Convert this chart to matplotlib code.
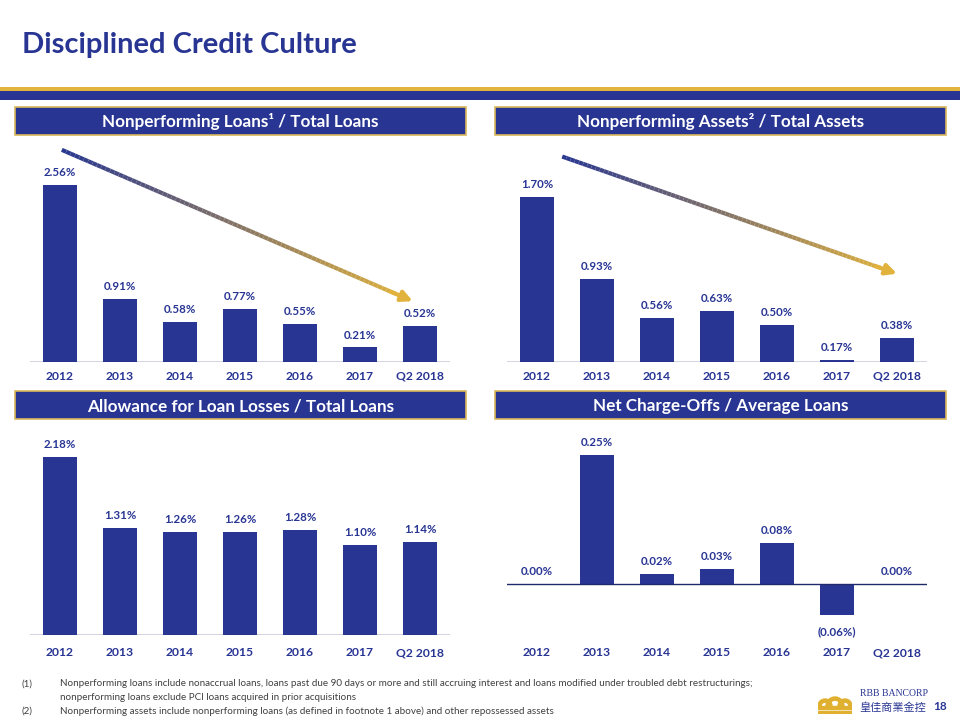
import numpy as np
import matplotlib.pyplot as plt
from matplotlib.collections import LineCollection
from matplotlib.patches import Rectangle, Wedge
from matplotlib.colors import to_rgb

# chart data
years = ['2012', '2013', '2014', '2015', '2016', '2017', 'Q2 2018']
npl_ratio = [2.56, 0.91, 0.58, 0.77, 0.55, 0.21, 0.52]
npa_ratio = [1.70, 0.93, 0.56, 0.63, 0.50, 0.17, 0.38]
allowance_ratio = [2.18, 1.31, 1.26, 1.26, 1.28, 1.10, 1.14]
nco_ratio = [0.00, 0.25, 0.02, 0.03, 0.08, -0.06, 0.00]

titles = ['Nonperforming Loans\u00b9 / Total Loans',
          'Nonperforming Assets\u00b2 / Total Assets',
          'Allowance for Loan Losses / Total Loans',
          'Net Charge-Offs / Average Loans']

footnotes = [
    ('(1)', 'Nonperforming loans include nonaccrual loans, loans past due 90 days or more and still accruing interest and loans modified under troubled debt restructurings;'),
    ('', 'nonperforming loans exclude PCI loans acquired in prior acquisitions'),
    ('(2)', 'Nonperforming assets include nonperforming loans (as defined in footnote 1 above) and other repossessed assets'),
]

BLUE = '#283593'
GOLD = '#E2B33C'
FONT = 'Lato'

W, H = 960, 720
fig = plt.figure(figsize=(9.6, 7.2), dpi=100)
fig.patch.set_facecolor('white')


def px_box(l, t, r, b):
    # pixel box -> figure fraction rect
    return [l / W, 1 - b / H, (r - l) / W, (b - t) / H]


def fx(x):
    return x / W


def fy(y):
    return 1 - y / H


# title + stripes
fig.text(fx(22), fy(45), 'Disciplined Credit Culture', fontsize=21, fontweight='bold',
         color=BLUE, family=FONT, va='center', ha='left')
fig.patches.append(Rectangle((0, fy(91)), 1, 4 / H, transform=fig.transFigure,
                             facecolor=GOLD, edgecolor='none'))
fig.patches.append(Rectangle((0, fy(100)), 1, 9 / H, transform=fig.transFigure,
                             facecolor=BLUE, edgecolor='none'))

# header boxes
headers = [(15, 107, 466, 135), (495, 107, 946, 135),
           (15, 391, 466, 419), (495, 391, 946, 419)]
for (l, t, r, b), ttl in zip(headers, titles):
    fig.patches.append(Rectangle((fx(l), fy(b)), (r - l) / W, (b - t) / H,
                                 transform=fig.transFigure, facecolor=BLUE,
                                 edgecolor='#D9B75A', linewidth=1.2))
    fig.text(fx((l + r) / 2), fy((t + b) / 2 + 1), ttl, color='white', fontsize=12.3,
             fontweight='bold', family=FONT, ha='center', va='center')


def fmt(v):
    return f'({abs(v):.2f}%)' if v < 0 else f'{v:.2f}%'


def bar_panel(rect, vals, ylim):
    ax = fig.add_axes(rect)
    x = np.arange(len(years))
    ax.bar(x, vals, width=0.56, color=BLUE)
    ax.axhline(max(0, ylim[0]), color='#1F2A6B', linewidth=1)
    ax.set_xlim(-0.5, len(years) - 0.5)
    ax.set_ylim(*ylim)
    for s in ax.spines.values():
        s.set_visible(False)
    ax.set_yticks([])
    ax.set_xticks([])
    for xi, v in zip(x, vals):
        off = -8 if v < 0 else 5
        ax.annotate(fmt(v), (xi, v), xytext=(0, off), textcoords='offset points',
                    ha='center', va='top' if v < 0 else 'bottom', fontsize=8.3,
                    fontweight='bold', color=BLUE, family=FONT, annotation_clip=False)
    return ax


def year_labels(x0, y):
    for i, yr in enumerate(years):
        fig.text(fx(x0 + 60 * i), fy(y), yr, ha='center', va='center', fontsize=8.7,
                 fontweight='bold', color=BLUE, family=FONT)


def grad_arrow(ax, start, end, c0='#2A3890', c1=GOLD, n=80):
    xs = np.linspace(start[0], end[0], n + 1)
    ys = np.linspace(start[1], end[1], n + 1)
    segs = np.stack([np.column_stack([xs[:-1], ys[:-1]]),
                     np.column_stack([xs[1:], ys[1:]])], axis=1)
    a, b = np.array(to_rgb(c0)), np.array(to_rgb(c1))
    cols = [a + (b - a) * t for t in np.linspace(0, 1, n)]
    ax.add_collection(LineCollection(segs[:-4], colors=cols[:-4], linewidth=3,
                                     capstyle='butt'))
    ax.annotate('', xy=end, xytext=(xs[-6], ys[-6]),
                arrowprops=dict(arrowstyle='-|>', color=c1, lw=3,
                                mutation_scale=16, shrinkA=0, shrinkB=0))


# top-left: baseline at y=362, 69.1 px per 1%
ax1 = bar_panel(px_box(30, 140, 450, 362), npl_ratio, (0, 222 / 69.1))
grad_arrow(ax1, (0.03, 3.07), (5.88, 0.88))
year_labels(60, 376)

# top-right: value axis starts near 0.15, 106.5 px per 1%
ax2 = bar_panel(px_box(507, 140, 927, 362), npa_ratio, (0.151, 0.151 + 222 / 106.5))
grad_arrow(ax2, (0.42, 2.08), (6.0, 0.98))
year_labels(537, 376)

# bottom-left: 81.7 px per 1%
ax3 = bar_panel(px_box(30, 425, 450, 635), allowance_ratio, (0, 210 / 81.7))
year_labels(60, 653)

# bottom-right: 516 px per 1%
ax4 = bar_panel(px_box(507, 425, 927, 632), nco_ratio, (-48 / 516, 159 / 516))
year_labels(537, 653)

# footnotes
for (num, txt), y in zip(footnotes, [684, 698, 711]):
    if num:
        fig.text(fx(22), fy(y), num, fontsize=7, color='#404040', family=FONT,
                 va='center')
    fig.text(fx(60), fy(y), txt, fontsize=7.1, color='#404040', family=FONT,
             va='center')

# logo: simple crown + name + page number
lax = fig.add_axes(px_box(818, 690, 852, 714))
lax.set_xlim(0, 34)
lax.set_ylim(0, 24)
lax.axis('off')
crown = '#E0B030'
for cx, r in [(7, 7), (17, 9), (27, 7)]:
    lax.add_patch(Wedge((cx, 8), r, 0, 180, width=3.2, color=crown))
lax.add_patch(Rectangle((0, 5), 34, 3.5, color=crown))
lax.add_patch(Rectangle((0, 1), 34, 2.5, color=crown))
fig.text(fx(894), fy(694), 'RBB BANCORP', fontsize=7, color=BLUE,
         family='Liberation Serif', ha='center', va='center')
fig.text(fx(893), fy(708), '皇佳商業金控', fontsize=8, color=BLUE,
         family=['Noto Sans CJK TC', 'DejaVu Sans'], ha='center', va='center')
fig.text(fx(940), fy(707), '18', fontsize=8.5, fontweight='bold', color=BLUE,
         family=FONT, ha='center', va='center')

fig.savefig('out.png', dpi=100, facecolor='white')
